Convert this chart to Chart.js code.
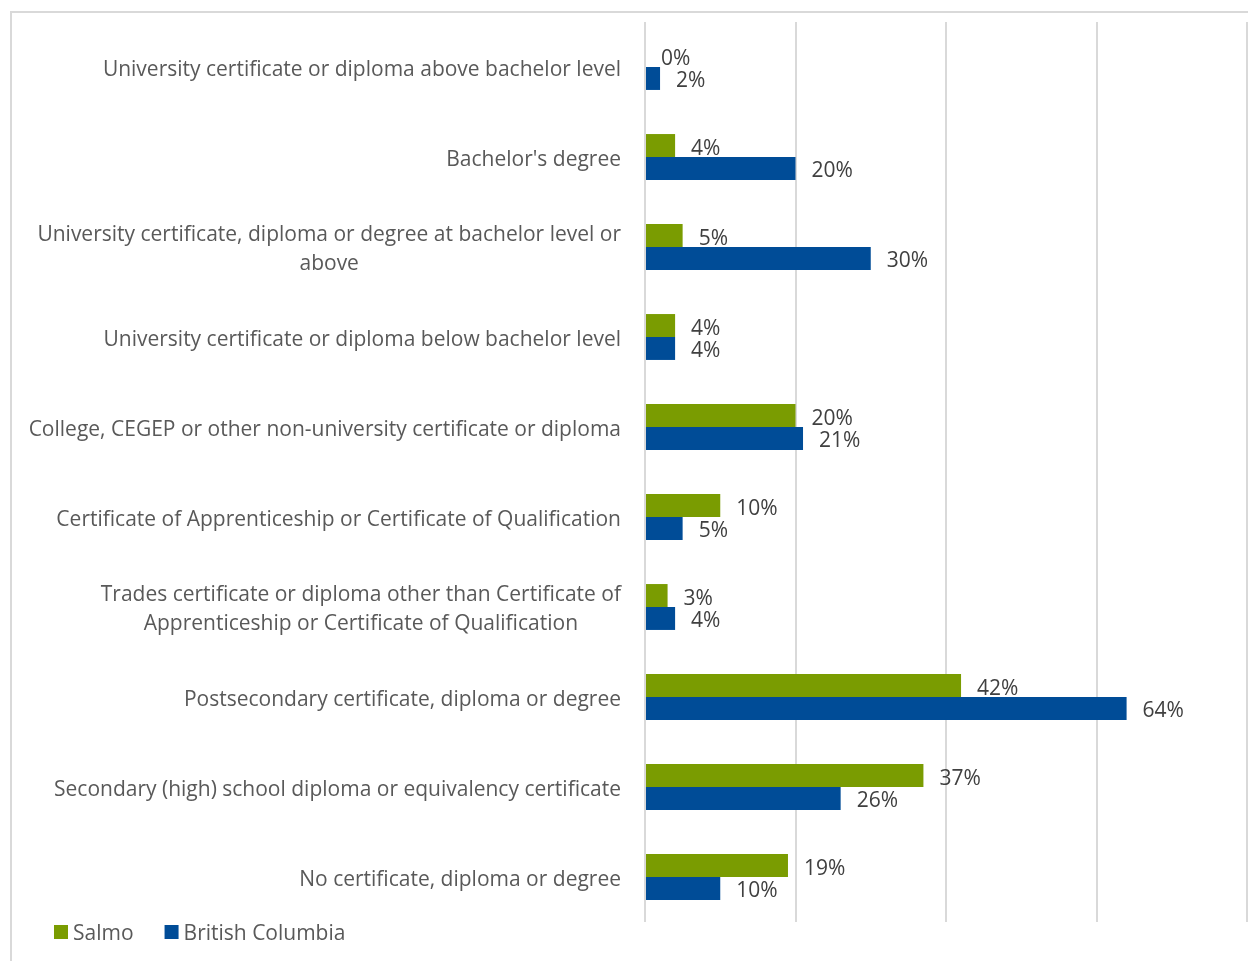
<!DOCTYPE html>
<html>
<head>
<meta charset="utf-8">
<script src="https://cdn.jsdelivr.net/npm/chart.js@4.4.1/dist/chart.umd.min.js"></script>
<style>
  html, body { margin: 0; background: #fff; overflow: hidden; }
  #frame { position: absolute; left: 10px; top: 11px; width: 1280px; height: 1000px; border: 2px solid #d9d9d9; box-sizing: border-box; }
  #wrap { position: absolute; left: 0; top: 0; width: 1248px; height: 961px; }
</style>
</head>
<body>
<div id="frame"></div>
<div id="wrap"><canvas id="eduChart"></canvas></div>
<script>
const categories = [
  ['University certificate or diploma above bachelor level'],
  ["Bachelor's degree"],
  ['University certificate, diploma or degree at bachelor level or', 'above'],
  ['University certificate or diploma below bachelor level'],
  ['College, CEGEP or other non-university certificate or diploma'],
  ['Certificate of Apprenticeship or Certificate of Qualification'],
  ['Trades certificate or diploma other than Certificate of', 'Apprenticeship or Certificate of Qualification'],
  ['Postsecondary certificate, diploma or degree'],
  ['Secondary (high) school diploma or equivalency certificate'],
  ['No certificate, diploma or degree']
];
const salmoValues = [0, 4, 5, 4, 20, 10, 3, 42, 37, 19];
const bcValues = [2, 20, 30, 4, 21, 5, 4, 64, 26, 10];
const xTicks = [0, 20, 40, 60, 80];

const FONT = "'Open Sans', sans-serif";
const LABEL_SIZE = 21;
const TEXT_NUDGE = 3; // canvas 'middle' baseline sits a little high for this font

// value labels to the right of each bar
const valueLabels = {
  id: 'valueLabels',
  afterDatasetsDraw(chart) {
    const ctx = chart.ctx;
    ctx.save();
    ctx.font = LABEL_SIZE + 'px ' + FONT;
    ctx.fillStyle = '#404040';
    ctx.textAlign = 'left';
    ctx.textBaseline = 'middle';
    chart.data.datasets.forEach((ds, di) => {
      chart.getDatasetMeta(di).data.forEach((bar, i) => {
        ctx.fillText(ds.data[i] + '%', bar.x + 16, bar.y + TEXT_NUDGE);
      });
    });
    ctx.restore();
  }
};

// category labels: right aligned block, wrapped lines centred within it
const categoryLabels = {
  id: 'categoryLabels',
  afterDraw(chart) {
    const ctx = chart.ctx;
    const yScale = chart.scales.y;
    const right = chart.chartArea.left - 24;
    ctx.save();
    ctx.font = LABEL_SIZE + 'px ' + FONT;
    ctx.fillStyle = '#595959';
    ctx.textAlign = 'center';
    ctx.textBaseline = 'middle';
    categories.forEach((lines, i) => {
      const y = yScale.getPixelForTick(i) + TEXT_NUDGE;
      const w = Math.max(...lines.map(l => ctx.measureText(l).width));
      const cx = right - w / 2;
      lines.forEach((l, j) => {
        ctx.fillText(l, cx, y + (j - (lines.length - 1) / 2) * 29);
      });
    });
    ctx.restore();
  }
};

// legend under the plot, at the left
const bottomLegend = {
  id: 'bottomLegend',
  afterDraw(chart) {
    const ctx = chart.ctx;
    const y = chart.chartArea.bottom + 10;
    let x = 54;
    ctx.save();
    ctx.font = LABEL_SIZE + 'px ' + FONT;
    ctx.textAlign = 'left';
    ctx.textBaseline = 'middle';
    chart.data.datasets.forEach(ds => {
      ctx.fillStyle = ds.backgroundColor;
      ctx.fillRect(x, y - 7, 14, 14);
      ctx.fillStyle = '#595959';
      ctx.fillText(ds.label, x + 19, y + 2);
      x += 19 + ctx.measureText(ds.label).width + 31;
    });
    ctx.restore();
  }
};

Chart.defaults.font.family = FONT;

new Chart(document.getElementById('eduChart'), {
  type: 'bar',
  data: {
    labels: categories,
    datasets: [
      { label: 'Salmo', data: salmoValues, backgroundColor: '#7a9c01' },
      { label: 'British Columbia', data: bcValues, backgroundColor: '#004c97' }
    ]
  },
  options: {
    indexAxis: 'y',
    responsive: true,
    maintainAspectRatio: false,
    animation: false,
    layout: { padding: { top: 22, left: 25, right: 1, bottom: 39 } },
    datasets: { bar: { barPercentage: 1, categoryPercentage: 0.51 } },
    scales: {
      x: {
        min: 0, max: 80,
        afterBuildTicks(scale) { scale.ticks = xTicks.map(v => ({ value: v })); },
        ticks: { display: false },
        grid: { color: '#d9d9d9', lineWidth: 2, drawTicks: false },
        border: { display: false }
      },
      y: {
        ticks: { display: false },
        grid: { display: false, drawTicks: false },
        border: { display: false },
        afterFit(scale) { scale.width = 620; }
      }
    },
    plugins: {
      legend: { display: false },
      tooltip: { enabled: false }
    }
  },
  plugins: [valueLabels, categoryLabels, bottomLegend]
});
</script>
</body>
</html>
